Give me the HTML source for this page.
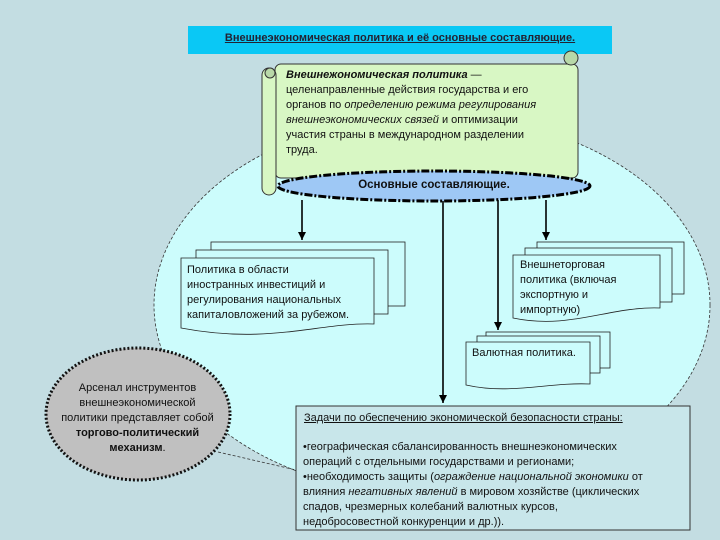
<!DOCTYPE html>
<html><head><meta charset="utf-8"><style>
body{margin:0;width:720px;height:540px;background:#c3dde2;position:relative;overflow:hidden;font-family:"Liberation Sans",sans-serif;color:#111}
.t{position:absolute;font-size:11px;line-height:15px;white-space:nowrap}
</style></head><body>
<svg width="720" height="540" style="position:absolute;left:0;top:0">
<defs><marker id="a" markerWidth="8" markerHeight="8" refX="4" refY="7" orient="auto" markerUnits="userSpaceOnUse"><path d="M0,0 L8,0 L4,8z" fill="#000" transform="rotate(-90 4 4)"/></marker>
<marker id="b" markerWidth="8" markerHeight="8" refX="8" refY="4" orient="auto" markerUnits="userSpaceOnUse"><path d="M0,0 L8,4 L0,8z" fill="#000"/></marker></defs>
<ellipse cx="432" cy="305" rx="278" ry="190" fill="#ccfcfc" stroke="#333" stroke-dasharray="3,2" stroke-width="0.8"/>
<!-- title bar -->
<rect x="188" y="26" width="424" height="28" fill="#0ac8f5"/>
<!-- scroll -->
<rect x="275" y="64" width="303" height="114" rx="6" fill="#d8f7c4" stroke="#333"/>
<rect x="262" y="68" width="14" height="127" rx="7" fill="#d8f7c4" stroke="#333"/>
<circle cx="270" cy="73" r="5" fill="#b8d8a8" stroke="#333"/>
<circle cx="571" cy="58" r="7" fill="#b8d8a8" stroke="#333"/>
<!-- arrows -->
<g stroke="#000" stroke-width="1.6" fill="none">
<line x1="302" y1="200" x2="302" y2="240" marker-end="url(#b)"/>
<line x1="546" y1="200" x2="546" y2="240" marker-end="url(#b)"/>
<line x1="498" y1="200" x2="498" y2="330" marker-end="url(#b)"/>
<line x1="443" y1="200" x2="443" y2="403" marker-end="url(#b)"/>
</g>
<!-- oval -->
<ellipse cx="434" cy="186" rx="156" ry="15" fill="#9ec8f5" stroke="#000" stroke-width="3" stroke-dasharray="8,2,2,2"/>
<!-- left stack -->
<g fill="#ccfcfc" stroke="#222" stroke-width="0.8">
<rect x="211" y="242" width="194" height="64"/>
<rect x="196" y="250" width="192" height="64"/>
<path d="M181,258 H374 V324 C320,322 270,345 181,328 Z"/>
<rect x="537" y="242" width="147" height="52"/>
<rect x="525" y="248" width="147" height="54"/>
<path d="M513,255 H660 V308 C610,306 570,330 513,318 Z"/>
<rect x="486" y="332" width="124" height="36"/>
<rect x="477" y="336" width="123" height="37"/>
<path d="M466,342 H590 V384 C550,382 510,395 466,385 Z"/>
</g>
<!-- gray ellipse -->
<ellipse cx="138" cy="414" rx="92" ry="66" fill="#c0c0c0" stroke="#111" stroke-width="3" stroke-dasharray="2,2"/>
<line x1="218" y1="452" x2="296" y2="470" stroke="#333" stroke-width="0.8" stroke-dasharray="3,2"/>
<rect x="296" y="406" width="394" height="124" fill="#c8e6ea" stroke="#333"/>
</svg>
<div class="t" style="left:188px;top:31px;width:424px;text-align:center;text-decoration:underline;font-size:11px;font-weight:bold;color:#223">Внешнеэкономическая политика и её основные составляющие.</div>
<div class="t" style="left:286px;top:68px"><b><i>Внешнежономическая политика</i></b> —<br>целенаправленные действия государства и его<br>органов по <i>определению режима регулирования</i><br><i>внешнеэкономических связей</i> и оптимизации<br>участия страны в международном разделении<br>труда.</div>
<div class="t" style="left:278px;top:178px;width:312px;text-align:center;font-weight:bold;font-size:11.5px">Основные составляющие.</div>
<div class="t" style="left:187px;top:263px">Политика в области<br>иностранных инвестиций и<br>регулирования национальных<br>капиталовложений за рубежом.</div>
<div class="t" style="left:520px;top:258px">Внешнеторговая<br>политика (включая<br>экспортную и<br>импортную)</div>
<div class="t" style="left:472px;top:346px">Валютная политика.</div>
<div class="t" style="left:45px;top:381px;width:185px;text-align:center">Арсенал инструментов<br>внешнеэкономической<br>политики представляет собой<br><b>торгово-политический<br>механизм</b>.</div>
<div class="t" style="left:304px;top:411px;text-decoration:underline">Задачи по обеспечению экономической безопасности страны:</div>
<div class="t" style="left:303px;top:440px">•географическая сбалансированность внешнеэкономических<br>операций с отдельными государствами и регионами;<br>•необходимость защиты (<i>ограждение национальной экономики</i> от<br>влияния <i>негативных явлений</i> в мировом хозяйстве (циклических<br>спадов, чрезмерных колебаний валютных курсов,<br>недобросовестной конкуренции и др.)).</div>
</body></html>
